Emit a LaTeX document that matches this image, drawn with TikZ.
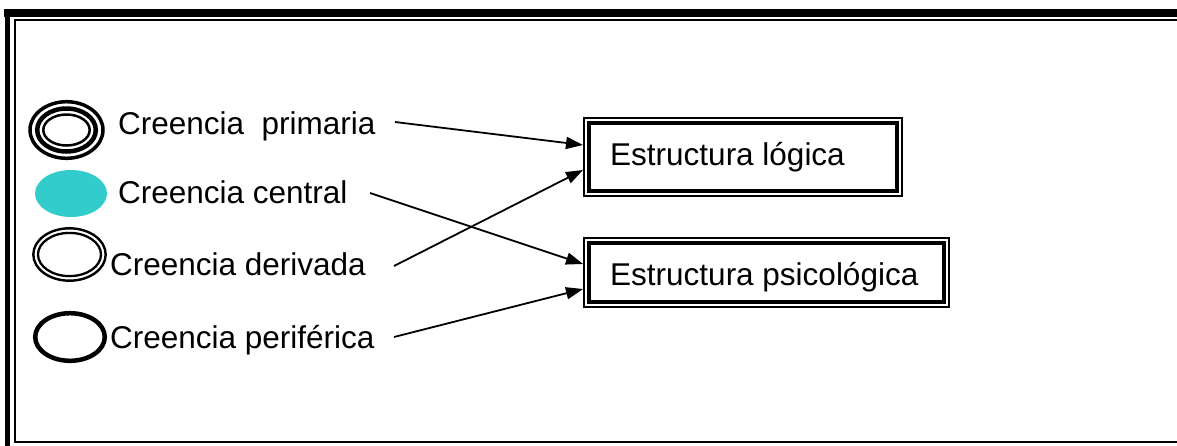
\documentclass[tikz,border=0pt]{standalone}
\usepackage{fontspec}
\setmainfont{Liberation Sans}
\usetikzlibrary{arrows.meta}
\definecolor{beliefcyan}{RGB}{51,204,204}
\begin{document}
\begin{tikzpicture}[x=1pt,y=-1pt,
  lbl/.style={anchor=base west,inner sep=0pt,font=\fontsize{31.5}{38}\selectfont},
  structbox/.style={draw,line width=2pt,minimum width=#1,minimum height=78pt,inner sep=0pt},
  link/.style={line width=1.8pt,-{Triangle[length=17pt,width=12pt]}}]
\useasboundingbox (0,0) rectangle (1177,445);
\clip (0,0) rectangle (1177,445);

% page frame: thick outer rule, thin inner rule
\draw[line width=8pt] (3.5,13) -- (1190,13);
\draw[line width=5pt] (7.5,9) -- (7.5,460);
\draw[line width=2pt] (1190,20) -- (15,20) -- (15,441.5) -- (1190,441.5);

% legend symbols
\draw[line width=3.5pt] (66.5,130) ellipse [x radius=36.5, y radius=28.3];
\draw[line width=4.5pt] (66.5,130) ellipse [x radius=29.3, y radius=21.5];
\draw[line width=2.5pt] (66.5,130) ellipse [x radius=23.2, y radius=15.5];
\fill[beliefcyan] (71,193.5) ellipse [x radius=36, y radius=23.5];
\draw[line width=2.4pt] (69.5,254.5) ellipse [x radius=36.2, y radius=26.2];
\draw[line width=2.3pt] (69.5,254.5) ellipse [x radius=31.5, y radius=21.6];
\draw[line width=4.5pt] (70,337) ellipse [x radius=34.8, y radius=23.8];

% legend labels
\node[lbl] (cp) at (118,134) {Creencia~~primaria};
\node[lbl] (cc) at (118,203) {Creencia central};
\node[lbl] (cd) at (110,275) {Creencia derivada};
\node[lbl] (cf) at (110,348) {Creencia periférica};

% structure boxes (thin outer rule, thick inner rule)
\node[structbox=318pt] (sl) at (743,157) {};
\node[structbox=365pt,minimum height=69pt] (sp) at (766.5,272.5) {};
\draw[line width=3.5pt] ([shift={(5.8,5.8)}]sl.north west) rectangle ([shift={(-5.8,-5.8)}]sl.south east);
\draw[line width=3.5pt] ([shift={(5.8,5.8)}]sp.north west) rectangle ([shift={(-5.8,-5.8)}]sp.south east);
\node[lbl] (tl) at (610,165) {Estructura lógica};
\node[lbl] (tp) at (610,285) {Estructura psicológica};

% connector start points
\coordinate (sp1) at (395,122);
\coordinate (sp2) at (370,193);
\coordinate (sp3) at (394,266);
\coordinate (sp4) at (394,337);

\draw[link] (sp1) -- ([yshift=12pt]sl.west);
\draw[link] (sp2) -- ([yshift=8.5pt]sp.west);
\draw[link] (sp3) -- ([yshift=-13pt]sl.west);
\draw[link] (sp4) -- ([yshift=-16.5pt]sp.west);
\end{tikzpicture}
\end{document}
